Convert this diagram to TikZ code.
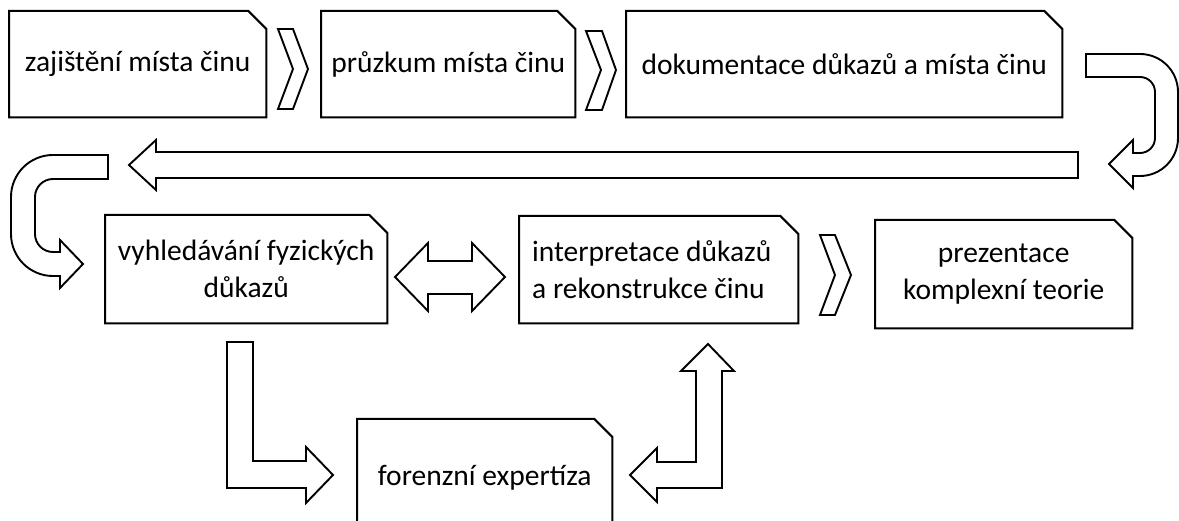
\documentclass[tikz,border=0pt]{standalone}
\usepackage{fontspec}
\setmainfont{Carlito}
\usepackage{tikz}

\begin{document}
\begin{tikzpicture}[x=1pt,y=1pt]
	\tikzstyle{box} = [rectangle, anchor=north west, inner sep=0pt, align=center, font=\fontsize{29.5}{37}\selectfont]
	\tikzstyle{snip} = [line width=2pt, line join=miter]
	\tikzstyle{blk} = [draw, line width=1.9pt, fill=white, line join=miter]
	\useasboundingbox (0,0) rectangle (1179,-521);
	\clip (0,0) rectangle (1179,-521);

	\node[box, minimum width=257pt, minimum height=106pt] (zaji) at (9,-11) {zajištění místa činu};
	\node[box, minimum width=254pt, minimum height=106pt] (pruz) at (321,-11) {průzkum místa činu};
	\node[box, minimum width=436pt, minimum height=106pt] (doku) at (626,-11) {dokumentace důkazů a místa činu};
	\node[box, minimum width=282pt, minimum height=108pt] (vyhl) at (105,-215) {vyhledávání fyzických\\důkazů};
	\node[box, minimum height=107pt, inner xsep=13pt, text width=253pt, align=flush left] (inte) at (519,-216) {interpretace důkazů\\a rekonstrukce činu};
	\node[box, minimum width=257pt, minimum height=108pt] (prez) at (875,-220) {prezentace\\komplexní teorie};
	\node[box, minimum width=255pt, minimum height=118pt] (fore) at (357,-419) {forenzní expertíza};

	\foreach \n in {zaji,pruz,doku,vyhl,inte,prez,fore}
		\draw[snip] (\n.south west) -- (\n.north west) -- ([xshift=-18pt]\n.north east) -- ([yshift=-18pt]\n.north east) -- (\n.south east) -- cycle;

	% chevrons
	\draw[blk] (278,-29) -- (293,-29) -- (308,-69) -- (293,-109) -- (278,-109) -- (293,-69) -- cycle;
	\draw[blk] (586,-31) -- (602,-31) -- (616,-70) -- (602,-110) -- (586,-110) -- (601,-70) -- cycle;
	\draw[blk] (820,-235) -- (835,-235) -- (851,-275) -- (835,-315) -- (820,-315) -- (835,-275) -- cycle;

	% u-turn right
	\draw[blk] (1086,-54) -- (1140,-54) arc[start angle=90, end angle=0, radius=38] -- (1178,-138)
		arc[start angle=0, end angle=-90, radius=38] -- (1133,-176) -- (1133,-188) -- (1109,-164) -- (1133,-140) -- (1133,-153) -- (1140,-153)
		arc[start angle=-90, end angle=0, radius=15] -- (1155,-92) arc[start angle=0, end angle=90, radius=15] -- (1086,-77) -- cycle;

	% long arrow
	\draw[blk] (1078,-152) -- (156,-152) -- (156,-140) -- (129,-165) -- (156,-190) -- (156,-178) -- (1078,-178) -- cycle;

	% u-turn left
	\draw[blk] (108,-155) -- (53,-155) arc[start angle=90, end angle=180, radius=42] -- (11,-234)
		arc[start angle=180, end angle=270, radius=42] -- (60,-276) -- (60,-288) -- (83,-264) -- (60,-240) -- (60,-252) -- (53,-252)
		arc[start angle=270, end angle=180, radius=18] -- (35,-197) arc[start angle=180, end angle=90, radius=18] -- (108,-179) -- cycle;

	% double arrow
	\draw[blk] (395,-277) -- (428,-243) -- (428,-261) -- (472,-261) -- (472,-243) -- (505,-277) -- (472,-311) -- (472,-294) -- (428,-294) -- (428,-311) -- cycle;

	% l-arrows
	\draw[blk] (227,-342) -- (253,-342) -- (253,-461) -- (306,-461) -- (306,-447) -- (333,-475) -- (306,-503) -- (306,-488) -- (227,-488) -- cycle;
	\draw[blk] (630,-475) -- (657,-448) -- (657,-462) -- (696,-462) -- (696,-371) -- (681,-371) -- (708,-344) -- (734,-371) -- (722,-371) -- (722,-488) -- (657,-488) -- (657,-502) -- cycle;
\end{tikzpicture}
\end{document}
